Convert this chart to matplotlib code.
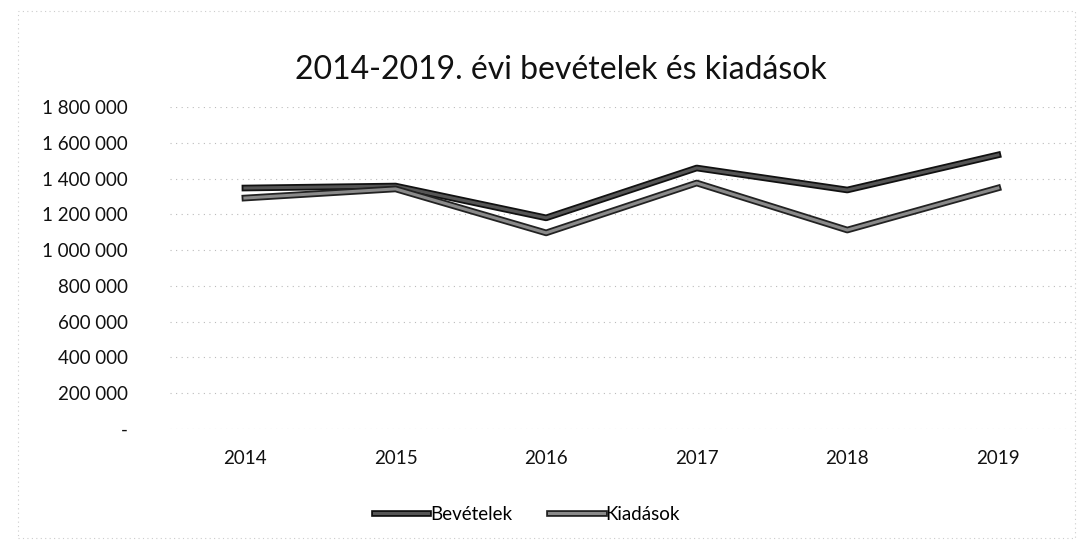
import matplotlib
matplotlib.use("Agg")
import matplotlib.pyplot as plt
import matplotlib.patheffects as pe
from matplotlib.ticker import FuncFormatter, MultipleLocator
from matplotlib.patches import Rectangle

plt.rcParams['font.family'] = ['Lato', 'DejaVu Sans']

# adatok
evek = ['2014', '2015', '2016', '2017', '2018', '2019']
bevetelek = [1347000, 1358000, 1180000, 1459000, 1336000, 1532000]
kiadasok = [1291000, 1342000, 1096000, 1375000, 1112000, 1347000]

fig = plt.figure(figsize=(10.84, 5.49), dpi=100)
ax = fig.add_axes([0.1565, 0.219, 0.8335, 0.586])

x = range(len(evek))
ax.plot(x, bevetelek, color='#555555', lw=2.2, label='Bevételek',
        path_effects=[pe.Stroke(linewidth=4.8, foreground='#111111'), pe.Normal()])
ax.plot(x, kiadasok, color='#8a8a8a', lw=2.2, label='Kiadások',
        path_effects=[pe.Stroke(linewidth=4.8, foreground='#222222'), pe.Normal()])

ax.set_xlim(-0.5, len(evek) - 0.5)
ax.set_ylim(0, 1800000)
ax.yaxis.set_major_locator(MultipleLocator(200000))


def fmt(v, pos):
    if v == 0:
        return '-'
    return f"{int(v):,}".replace(',', ' ')


ax.yaxis.set_major_formatter(FuncFormatter(fmt))
ax.set_xticks(list(x))
ax.set_xticklabels(evek)
ax.tick_params(axis='both', length=0, labelsize=13.5, colors='#111111')
ax.tick_params(axis='x', pad=15)
ax.tick_params(axis='y', pad=30)

ax.grid(axis='y', color='#bbbbbb', lw=0.8, ls=(0, (1, 4)))
for s in ax.spines.values():
    s.set_visible(False)

fig.text(0.517, 0.873, '2014-2019. évi bevételek és kiadások', ha='center', va='center',
         fontsize=23, color='#111111')

leg = fig.legend(loc='center', bbox_to_anchor=(0.486, 0.063), ncol=2, frameon=False,
                 fontsize=13.5, handlelength=2.9, columnspacing=2.0, handletextpad=0.1)

# a diagramterület szaggatott kerete
fig.patches.append(Rectangle((0.017, 0.02), 0.975, 0.96, transform=fig.transFigure,
                             fill=False, ec='#cccccc', lw=0.8, ls=(0, (1, 3))))

fig.savefig('out.png', dpi=100)
